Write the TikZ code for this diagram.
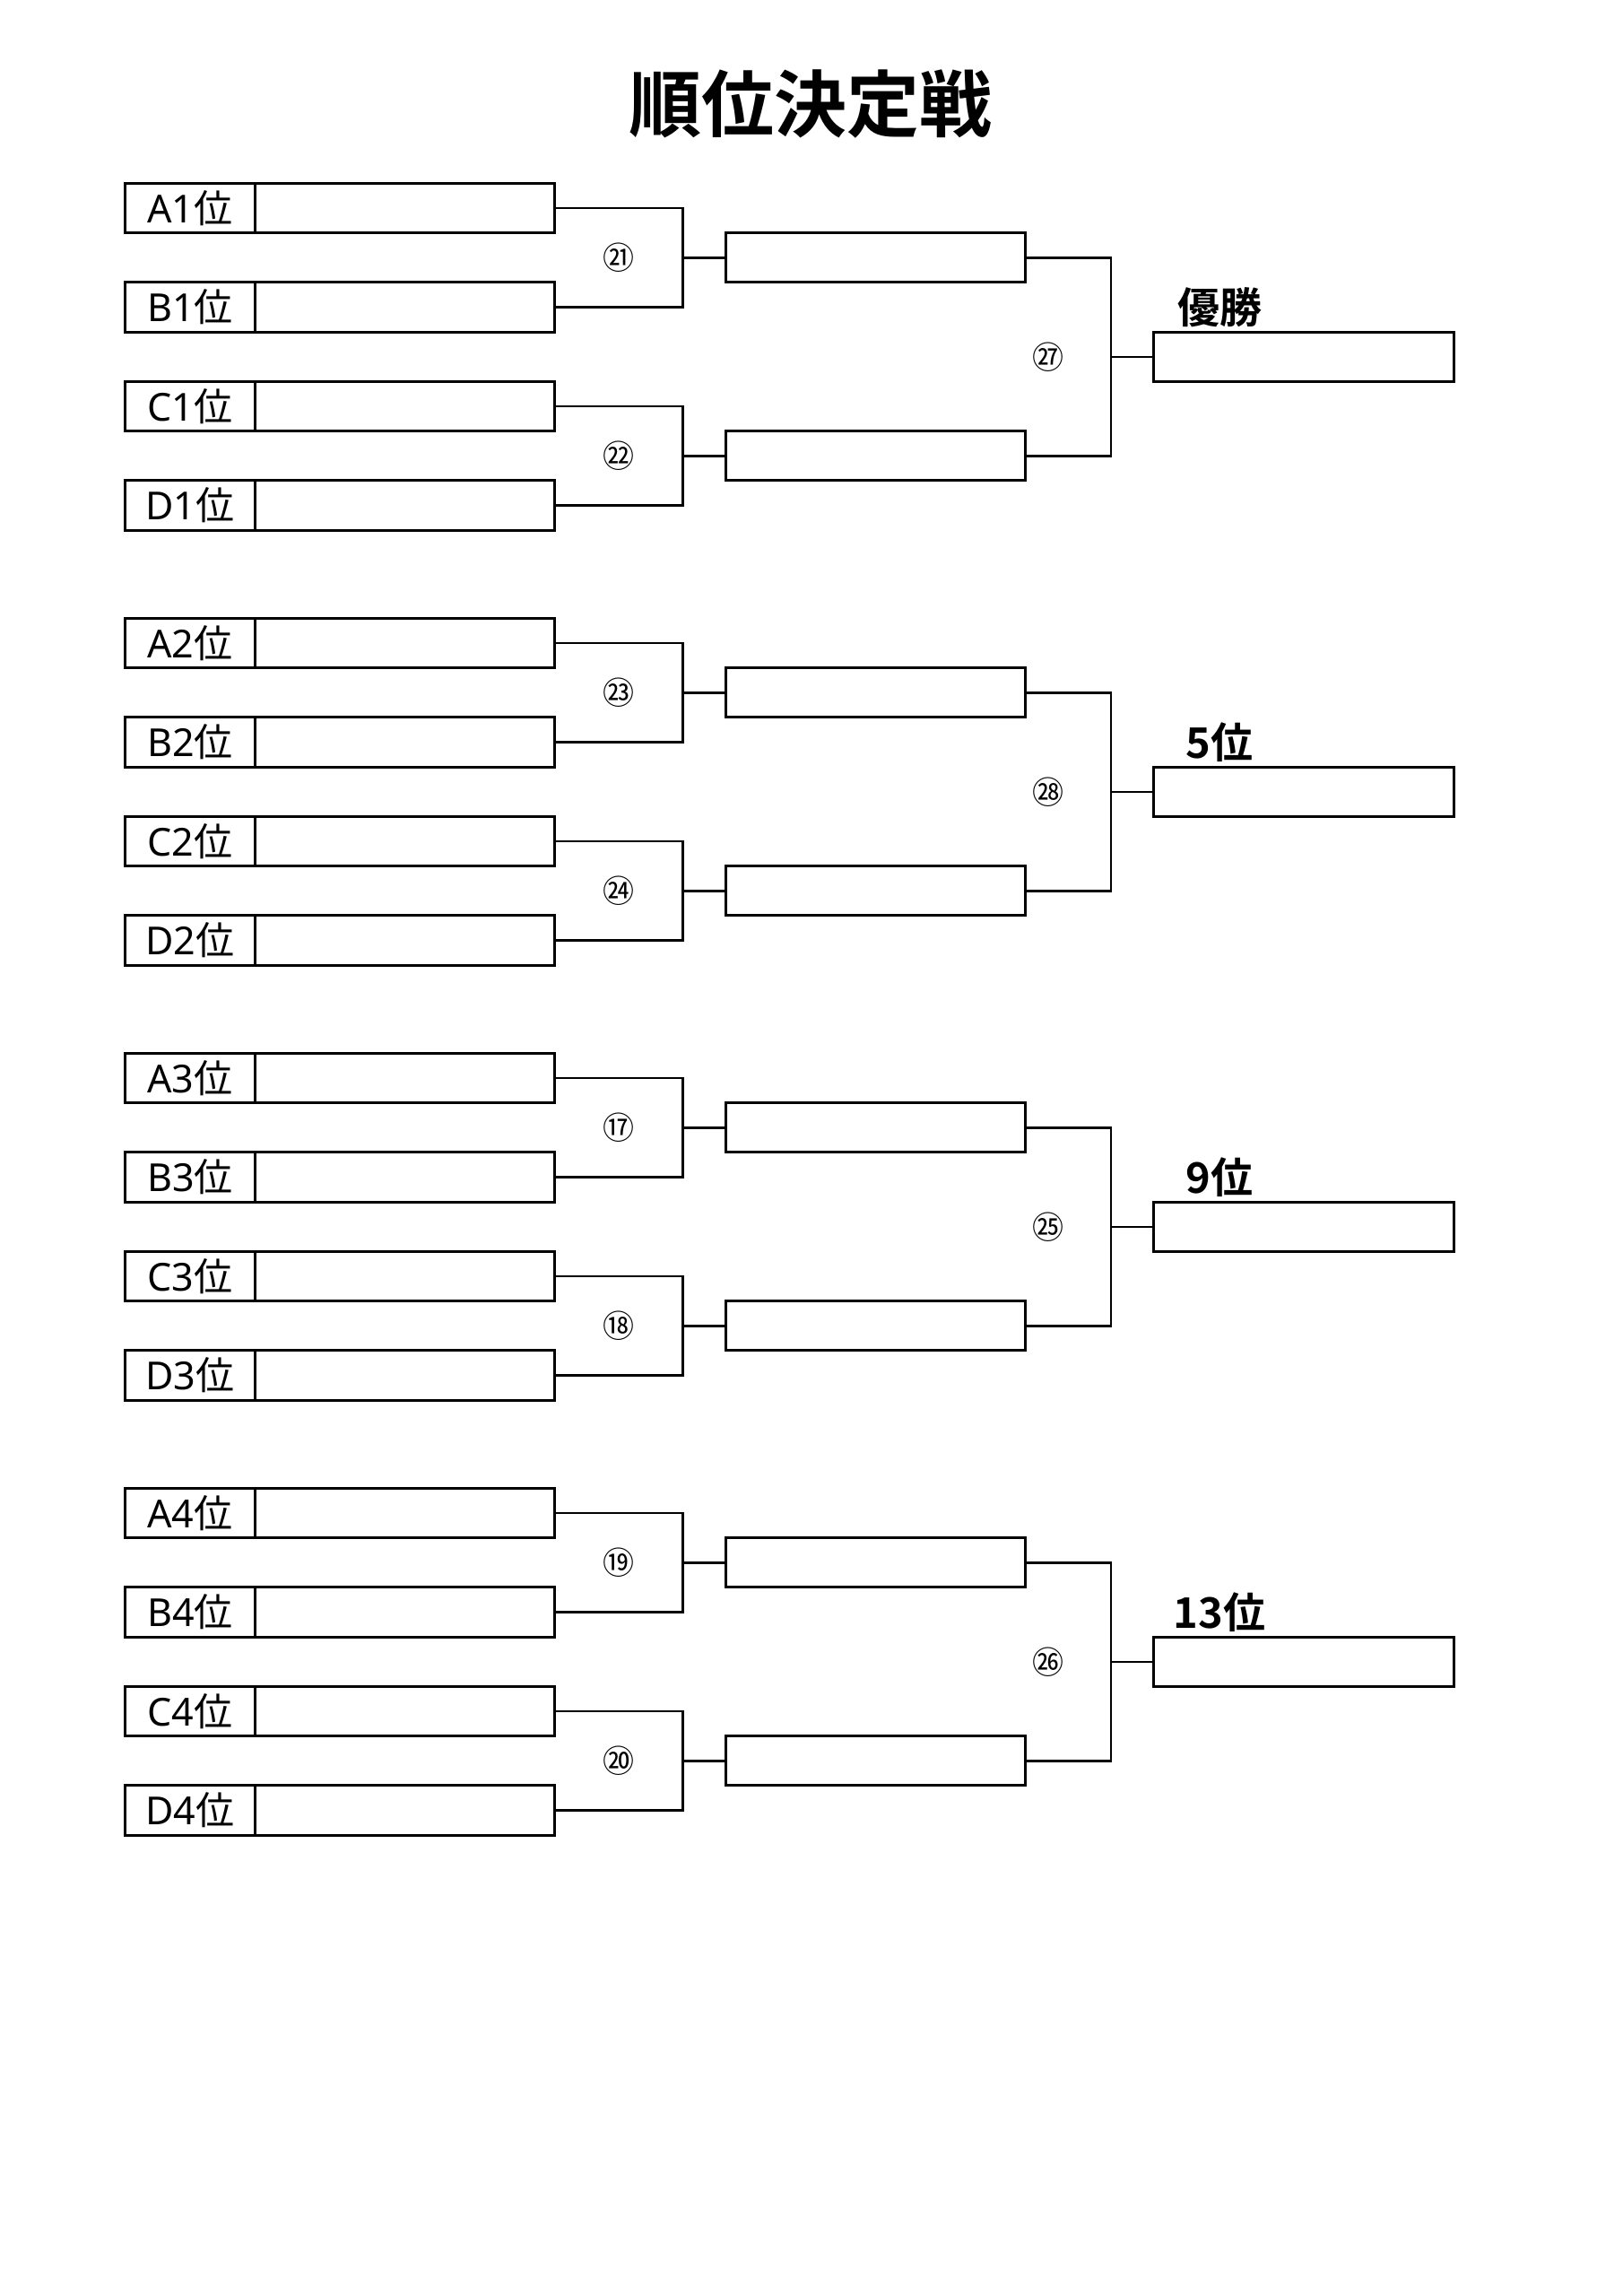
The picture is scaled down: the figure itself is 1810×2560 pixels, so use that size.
\documentclass[tikz,border=0pt]{standalone}
\usepackage{fontspec}
\setmainfont{Noto Sans CJK JP}[BoldFont={Noto Sans CJK JP Bold}]
\newfontfamily\latinfont{Noto Sans}
\begin{document}
\begin{tikzpicture}[x=0.5pt,y=-0.5pt,
  cell/.style={draw, line width=1.5pt, inner sep=0pt, minimum height=27.75pt, font=\fontsize{21.5}{21.5}\selectfont},
  labcell/.style={cell, minimum width=72.25pt},
  entry/.style={cell, minimum width=167.25pt},
  winbox/.style={draw, line width=1.5pt, inner sep=0pt, minimum height=27.5pt, minimum width=167pt},
  conn/.style={line width=1.3pt},
  num/.style={inner sep=0pt, font=\fontsize{17.5}{17.5}\selectfont},
  place/.style={inner sep=0pt, font=\bfseries\fontsize{23.5}{23.5}\selectfont},
  titlestyle/.style={inner sep=0pt, font=\bfseries\fontsize{40.5}{40.5}\selectfont}]
\useasboundingbox (0,0) rectangle (1810,2560);
\fill[white] (0,0) rectangle (1810,2560);
\node[titlestyle] (title) at (904,116) {順位決定戦};
\foreach \g/\r/\ca/\cb/\cc/\pl in {0/1/㉑/㉒/㉗/優勝, 1/2/㉓/㉔/㉘/5位, 2/3/⑰/⑱/㉕/9位, 3/4/⑲/⑳/㉖/13位}{
  \pgfmathsetmacro{\gy}{204.3+485*\g}
  \foreach \L [count=\i from 0] in {A,B,C,D}{
    \pgfmathsetmacro{\yc}{\gy+27.75+110.5*\i}
    \node[labcell] (L\L\g) at (212,\yc) {{\latinfont\L\r}位};
    \node[entry] (E\L\g) at (451.25,\yc) {};
  }
  \pgfmathsetmacro{\ya}{\gy+83}
  \pgfmathsetmacro{\yb}{\gy+304}
  \pgfmathsetmacro{\yf}{\gy+193.5}
  \pgfmathsetmacro{\yp}{\gy+138}
  \node[winbox] (S1\g) at (976,\ya) {};
  \node[winbox] (S2\g) at (976,\yb) {};
  \node[winbox, minimum width=167.5pt] (F\g) at (1453.5,\yf) {};
  \coordinate (J1\g) at (761.5,\ya);
  \coordinate (J2\g) at (761.5,\yb);
  \coordinate (J3\g) at (1239,\yf);
  \draw[conn] (EA\g.east) -| (J1\g) |- (EB\g.east);
  \draw[conn] (J1\g) -- (S1\g.west);
  \draw[conn] (EC\g.east) -| (J2\g) |- (ED\g.east);
  \draw[conn] (J2\g) -- (S2\g.west);
  \draw[conn] (S1\g.east) -| (J3\g) |- (S2\g.east);
  \draw[conn] (J3\g) -- (F\g.west);
  \node[num] (N1\g) at (690,\ya) {\ca};
  \node[num] (N2\g) at (690,\yb) {\cb};
  \node[num] (N3\g) at (1169,\yf) {\cc};
  \node[place] (P\g) at (1360,\yp) {\pl};
}
\end{tikzpicture}
\end{document}
